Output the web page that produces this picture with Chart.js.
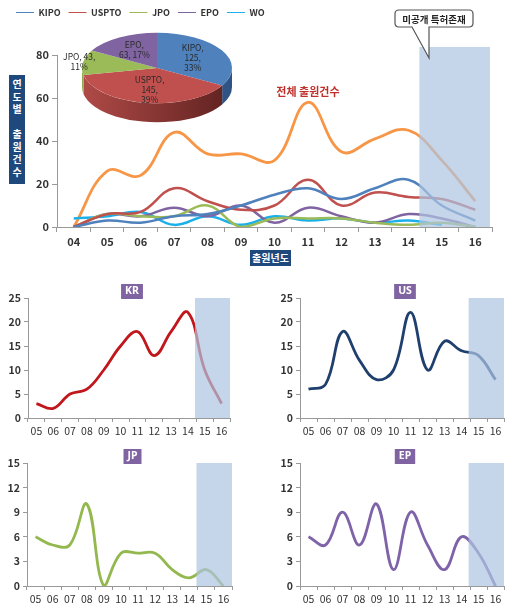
<!DOCTYPE html>
<html>
<head>
<meta charset="utf-8">
<script src="https://cdn.jsdelivr.net/npm/chart.js@4.4.1/dist/chart.umd.min.js"></script>
<style>
body { margin: 0; background: #fff; font-family: 'Noto Sans CJK KR', 'Noto Sans', sans-serif; }
#wrap { position: relative; width: 517px; height: 608px; overflow: hidden; }
canvas { position: absolute; }
.navy { position: absolute; background: #1f497d; color: #fff; font-weight: bold; font-size: 10px; text-align: center; }
#ytitle { left: 9px; top: 75px; width: 16px; height: 109px; line-height: 12.5px; padding-top: 3px; box-sizing: border-box; }
#xtitle { left: 250px; top: 250px; width: 41px; height: 16px; line-height: 16px; }
</style>
</head>
<body>
<div id="wrap">
  <canvas id="main" width="517" height="248" style="left:0;top:0"></canvas>
  <canvas id="pie" width="194" height="170" style="left:60px;top:-9px"></canvas>
  <div class="navy" id="ytitle">연<br>도<br>별<br><br>출<br>원<br>건<br>수</div>
  <div class="navy" id="xtitle">출원년도</div>
  <canvas id="kr" width="258" height="165" style="left:0;top:275px"></canvas>
  <canvas id="us" width="259" height="165" style="left:258px;top:275px"></canvas>
  <canvas id="jp" width="258" height="168" style="left:0;top:440px"></canvas>
  <canvas id="ep" width="259" height="168" style="left:258px;top:440px"></canvas>
</div>
<script>
// 출원년도
var years = ['04', '05', '06', '07', '08', '09', '10', '11', '12', '13', '14', '15', '16'];
var subYears = years.slice(1);

// 연도별 출원건수
var kipo  = [0, 3, 2, 5, 6, 10, 15, 18, 13, 18, 22, 10, 3];
var uspto = [0, 6, 7, 18, 12, 8, 10, 22, 10, 16, 14, 13, 8];
var jpo   = [0, 6, 5, 5, 10, 0, 4, 4, 4, 2, 1, 2, 0];
var epo   = [0, 6, 5, 9, 5, 10, 2, 9, 5, 2, 6, 4, 0];
var wo    = [4, 5, 7, 1, 5, 1, 5, 3, 4, 2, 3, 1, null];
var total = [0, 26, 24, 44, 34, 34, 31, 58, 35, 41, 45, 31, 12];

// 출원국 비율
var pieLabels = ['KIPO', 'USPTO', 'JPO', 'EPO'];
var pieValues = [125, 145, 43, 63];

var mainTicks = [0, 20, 40, 60, 80];
var smallTicksA = [0, 5, 10, 15, 20, 25];
var smallTicksB = [0, 3, 6, 9, 12, 15];

// pie look
var pieTilt = 0.47;
var pieDepth = 19;
var pieSide = [['#4a78b0', '#2e5283'], ['#b04a47', '#5e2220'], ['#8fae52', '#6a8838'], ['#75599a', '#55407a']];
var pieLabelPos = [0.55, 0.62, 1.05, 0.6];
var pieWrap = [3, 3, 1, 2];

Chart.defaults.font.family = "'Noto Sans CJK KR', 'Noto Sans', sans-serif";
Chart.defaults.color = '#333';

// semi transparent box over the unpublished years
var shade = {
    id: 'shade',
    afterDatasetsDraw: function (chart, args, o) {
        var x = chart.scales.x, a = chart.chartArea, ctx = chart.ctx;
        var step = x.getPixelForValue(1) - x.getPixelForValue(0);
        var left = x.getPixelForValue(o.from) + step * o.shift;
        ctx.save();
        ctx.fillStyle = 'rgba(174,196,225,0.7)';
        ctx.fillRect(left, a.top - o.above, a.right - o.cut - left, a.bottom - a.top + o.above);
        ctx.restore();
    }
};

var legendGap = {
    id: 'legendGap',
    beforeInit: function (chart) {
        var fit = chart.legend.fit;
        chart.legend.fit = function () {
            fit.call(this);
            this.height += 28;
        };
    }
};

var notes = {
    id: 'notes',
    afterDraw: function (chart, args, o) {
        var ctx = chart.ctx;
        ctx.save();
        // 전체 출원건수 label
        ctx.font = 'bold 11px "Noto Sans CJK KR"';
        ctx.fillStyle = '#c0302b';
        ctx.textAlign = 'center';
        ctx.textBaseline = 'middle';
        ctx.fillText(o.totalText, chart.scales.x.getPixelForValue(o.totalAt[0]), chart.scales.y.getPixelForValue(o.totalAt[1]));

        // callout
        var x0 = 395, y0 = 10, x1 = 473, y1 = 27, r = 4;
        ctx.beginPath();
        ctx.moveTo(x0 + r, y0);
        ctx.lineTo(x1 - r, y0);
        ctx.quadraticCurveTo(x1, y0, x1, y0 + r);
        ctx.lineTo(x1, y1 - r);
        ctx.quadraticCurveTo(x1, y1, x1 - r, y1);
        ctx.lineTo(429, y1);
        ctx.lineTo(429, 58);
        ctx.lineTo(412, y1);
        ctx.lineTo(x0 + r, y1);
        ctx.quadraticCurveTo(x0, y1, x0, y1 - r);
        ctx.lineTo(x0, y0 + r);
        ctx.quadraticCurveTo(x0, y0, x0 + r, y0);
        ctx.closePath();
        ctx.fillStyle = '#fff';
        ctx.fill();
        ctx.strokeStyle = '#555';
        ctx.lineWidth = 1.2;
        ctx.stroke();
        ctx.font = 'bold 9.5px "Noto Sans CJK KR"';
        ctx.fillStyle = '#222';
        ctx.fillText(o.callText, (x0 + x1) / 2, (y0 + y1) / 2 + 0.5);
        ctx.restore();
    }
};

new Chart(document.getElementById('main'), {
    type: 'line',
    data: {
        labels: years,
        datasets: [
            { label: 'KIPO', data: kipo, borderColor: '#4f81bd' },
            { label: 'USPTO', data: uspto, borderColor: '#c0504d' },
            { label: 'JPO', data: jpo, borderColor: '#9bbb59' },
            { label: 'EPO', data: epo, borderColor: '#8064a2' },
            { label: 'WO', data: wo, borderColor: '#1cb0ea' },
            { label: '전체 출원건수', data: total, borderColor: '#f79646', borderWidth: 2.8 }
        ]
    },
    options: {
        animation: false,
        responsive: false,
        layout: { padding: { left: 8, right: 25, top: 0, bottom: 0 } },
        elements: {
            point: { radius: 0, pointStyle: 'line' },
            line: { tension: 0.4, borderWidth: 2.5 }
        },
        plugins: {
            legend: {
                align: 'start',
                labels: {
                    usePointStyle: true,
                    pointStyle: 'line',
                    pointStyleWidth: 18,
                    padding: 8,
                    font: { size: 9, weight: 'bold' },
                    color: '#333',
                    filter: function (item) { return item.datasetIndex < 5; }
                }
            },
            tooltip: { enabled: false },
            shade: { from: 10, shift: 0.33, above: 8, cut: 2 },
            notes: { totalText: '전체 출원건수', totalAt: [7, 63], callText: '미공개 특허존재' }
        },
        scales: {
            x: {
                offset: true,
                grid: { offset: true, drawOnChartArea: false, tickLength: 5, color: '#999' },
                border: { color: '#999' },
                ticks: { font: { size: 11, weight: 'bold' }, color: '#333', padding: 3, maxRotation: 0, autoSkip: false },
                afterFit: function (s) { s.height = 21; }
            },
            y: {
                min: 0,
                max: 80,
                afterBuildTicks: function (s) { s.ticks = mainTicks.map(function (v) { return { value: v }; }); },
                grid: { drawOnChartArea: false, tickLength: 5, color: '#999' },
                border: { color: '#999' },
                ticks: { font: { size: 11, weight: 'bold' }, color: '#333', padding: 3 },
                afterFit: function (s) { s.width = 49; }
            }
        }
    },
    plugins: [legendGap, shade, notes]
});

// 3D looking pie: side walls first, then the squashed top drawn by Chart.js
var pie3d = {
    id: 'pie3d',
    beforeDatasetsDraw: function (chart) {
        var ctx = chart.ctx, arcs = chart.getDatasetMeta(0).data;
        var cx = arcs[0].x, cy = arcs[0].y;
        ctx.save();
        arcs.forEach(function (arc, i) {
            var r = arc.outerRadius, ry = r * pieTilt;
            var a0 = Math.max(arc.startAngle, 0), a1 = Math.min(arc.endAngle, Math.PI);
            if (a1 <= a0) return;
            var g = ctx.createLinearGradient(cx - r, 0, cx + r, 0);
            g.addColorStop(0, pieSide[i][0]);
            g.addColorStop(1, pieSide[i][1]);
            ctx.beginPath();
            ctx.ellipse(cx, cy, r, ry, 0, a0, a1, false);
            ctx.ellipse(cx, cy + pieDepth, r, ry, 0, a1, a0, true);
            ctx.closePath();
            ctx.fillStyle = g;
            ctx.fill();
        });
        ctx.restore();
        ctx.save();
        ctx.translate(cx, cy);
        ctx.scale(1, pieTilt);
        ctx.translate(-cx, -cy);
    },
    afterDatasetsDraw: function (chart) {
        var ctx = chart.ctx, arcs = chart.getDatasetMeta(0).data;
        ctx.restore();
        var sum = pieValues.reduce(function (s, v) { return s + v; }, 0);
        ctx.save();
        ctx.font = '8.5px "Noto Sans CJK KR"';
        ctx.fillStyle = '#2a2a2a';
        ctx.textAlign = 'center';
        ctx.textBaseline = 'middle';
        arcs.forEach(function (arc, i) {
            var mid = (arc.startAngle + arc.endAngle) / 2;
            var rr = arc.outerRadius * pieLabelPos[i];
            var x = arc.x + rr * Math.cos(mid);
            var y = arc.y + rr * Math.sin(mid) * pieTilt;
            var name = pieLabels[i] + ',', val = pieValues[i] + ',', pct = Math.round(pieValues[i] / sum * 100) + '%';
            var lines;
            if (pieWrap[i] === 3) lines = [name, val, pct];
            else if (pieWrap[i] === 1) lines = [name + ' ' + val, pct];
            else lines = [name, pieValues[i] + ', ' + pct];
            lines.forEach(function (t, k) {
                ctx.fillText(t, x, y + (k - (lines.length - 1) / 2) * 10);
            });
        });
        ctx.restore();
    }
};

new Chart(document.getElementById('pie'), {
    type: 'pie',
    data: {
        labels: pieLabels,
        datasets: [{
            data: pieValues,
            backgroundColor: ['#4f81bd', '#c0504d', '#9bbb59', '#8064a2'],
            borderWidth: 0,
            clip: false
        }]
    },
    options: {
        animation: false,
        responsive: false,
        layout: { padding: { left: 22, right: 22, top: 2, bottom: 18 } },
        plugins: {
            legend: { display: false },
            tooltip: { enabled: false }
        }
    },
    plugins: [pie3d]
});

// purple tag above the small charts
var tag = {
    id: 'tag',
    afterDraw: function (chart, args, o) {
        var ctx = chart.ctx, a = chart.chartArea;
        ctx.save();
        ctx.font = 'bold 10.5px "Noto Sans"';
        var w = ctx.measureText(o.text).width + 8;
        var cx = (a.left + a.right) / 2 + 3;
        ctx.fillStyle = '#8064a2';
        ctx.fillRect(cx - w / 2, a.top - 14, w, 15);
        ctx.fillStyle = '#fff';
        ctx.textAlign = 'center';
        ctx.textBaseline = 'middle';
        ctx.fillText(o.text, cx, a.top - 6.5);
        ctx.restore();
    }
};

function smallChart(id, title, data, color, tickList, padL, padR) {
    var top = tickList[tickList.length - 1];
    new Chart(document.getElementById(id), {
        type: 'line',
        data: {
            labels: subYears,
            datasets: [{ label: title, data: data, borderColor: color, borderWidth: 2.8 }]
        },
        options: {
            animation: false,
            responsive: false,
            layout: { padding: { left: padL, right: padR, top: 23, bottom: 0 } },
            elements: { point: { radius: 0 }, line: { tension: 0.4 } },
            plugins: {
                legend: { display: false },
                tooltip: { enabled: false },
                shade: { from: 9, shift: 0.42, above: 0, cut: 0 },
                tag: { text: title }
            },
            scales: {
                x: {
                    offset: true,
                    grid: { offset: true, drawOnChartArea: false, tickLength: 4, color: '#999' },
                    border: { color: '#999' },
                    ticks: { font: { size: 10.5 }, color: '#333', padding: 3, maxRotation: 0, autoSkip: false },
                    afterFit: function (s) { s.height = 22; }
                },
                y: {
                    min: 0,
                    max: top,
                    afterBuildTicks: function (s) { s.ticks = tickList.map(function (v) { return { value: v }; }); },
                    grid: { drawOnChartArea: false, tickLength: 4, color: '#999' },
                    border: { color: '#999' },
                    ticks: { font: { size: 10.5, weight: 'bold' }, color: '#333', padding: 3 },
                    afterFit: function (s) { s.width = 24; }
                }
            }
        },
        plugins: [shade, tag]
    });
}

smallChart('kr', 'KR', kipo.slice(1), '#c0161c', smallTicksA, 4, 28);
smallChart('us', 'US', uspto.slice(1), '#1f3f6e', smallTicksA, 18, 13);
smallChart('jp', 'JP', jpo.slice(1), '#92b84e', smallTicksB, 3, 26);
smallChart('ep', 'EP', epo.slice(1), '#7f63a8', smallTicksB, 18, 13);
</script>
</body>
</html>
